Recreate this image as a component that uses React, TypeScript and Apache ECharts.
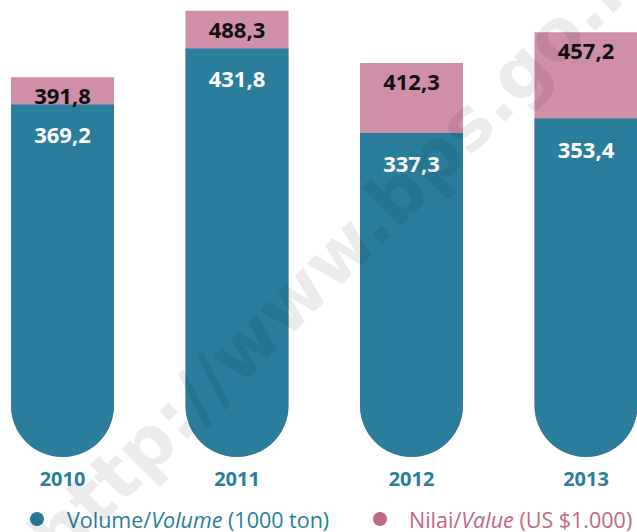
import React, { useEffect, useRef } from 'react';
import * as echarts from 'echarts';

const years = ['2010', '2011', '2012', '2013'];
const volume = [369.2, 431.8, 337.3, 353.4];
const nilai = [391.8, 488.3, 412.3, 457.2];

const TEAL = '#2a7e9c';
const PINK_BAR = '#d08fa9';
const PINK_DARK = '#c0678a';
const FONT = '"Open Sans", "DejaVu Sans", sans-serif';

const fmt = (v: number) => String(v).replace('.', ',');

export default function App() {
  const ref = useRef<HTMLDivElement>(null);
  useEffect(() => {
    const chart = echarts.init(ref.current!, null, { renderer: 'svg' });
    chart.setOption({
      animation: false,
      grid: { left: 62.5, right: 51, top: 0, bottom: 75 },
      xAxis: {
        type: 'category',
        data: years,
        boundaryGap: false,
        axisLine: { show: false },
        axisTick: { show: false },
        splitLine: { show: false },
        axisLabel: {
          margin: 11,
          color: TEAL,
          fontFamily: FONT,
          fontWeight: 'bold',
          fontSize: 20,
          interval: 0,
        },
      },
      yAxis: [
        { type: 'value', min: -25, max: 486, startValue: -25, show: false, splitLine: { show: false } },
        { type: 'value', min: -160, max: 504, startValue: -160, show: false, splitLine: { show: false } },
      ],
      legend: [
        {
          left: 30,
          top: 508,
          padding: 0,
          icon: 'circle',
          itemWidth: 14,
          itemHeight: 14,
          selectedMode: false,
          data: [{ name: 'Volume', itemStyle: { color: TEAL } }],
          formatter: () => '{a|Volume/}{ai|Volume}{b| (1000 ton)}',
          textStyle: {
            rich: {
              a: { fontFamily: FONT, fontSize: 21.5, color: TEAL, padding: [0, 0, 0, 18] },
              ai: { fontFamily: FONT, fontSize: 21.5, color: TEAL, fontStyle: 'italic' },
              b: { fontFamily: FONT, fontSize: 21.5, color: TEAL },
            },
          },
        },
        {
          left: 373,
          top: 508,
          padding: 0,
          icon: 'circle',
          itemWidth: 14,
          itemHeight: 14,
          selectedMode: false,
          data: [{ name: 'Nilai', itemStyle: { color: PINK_DARK } }],
          formatter: () => '{a|Nilai/}{ai|Value}{b| (US $1.000)}',
          textStyle: {
            rich: {
              a: { fontFamily: FONT, fontSize: 21.5, color: PINK_DARK, padding: [0, 0, 0, 17] },
              ai: { fontFamily: FONT, fontSize: 21.5, color: PINK_DARK, fontStyle: 'italic' },
              b: { fontFamily: FONT, fontSize: 21.5, color: PINK_DARK },
            },
          },
        },
      ],
      series: [
        {
          name: 'Nilai',
          type: 'bar',
          yAxisIndex: 1,
          data: nilai,
          barWidth: 103,
          barGap: '-100%',
          clip: false,
          itemStyle: { color: PINK_BAR, borderRadius: [0, 0, 52, 52] },
          label: {
            show: true,
            position: 'insideTop',
            distance: 7,
            color: '#111',
            fontFamily: FONT,
            fontWeight: 'bold',
            fontSize: 22,
            formatter: (p: any) => fmt(p.value),
          },
        },
        {
          name: 'Volume',
          type: 'bar',
          yAxisIndex: 0,
          data: volume,
          barWidth: 103,
          barGap: '-100%',
          clip: false,
          itemStyle: { color: TEAL, borderRadius: [0, 0, 52, 52] },
          label: {
            show: true,
            position: 'insideTop',
            distance: 19,
            color: '#fff',
            fontFamily: FONT,
            fontWeight: 'bold',
            fontSize: 22,
            formatter: (p: any) => fmt(p.value),
          },
        },
      ],
      graphic: [
        {
          type: 'text',
          x: 344,
          y: 247,
          rotation: Math.PI / 4,
          z: 100,
          silent: true,
          style: {
            text: 'http://www.bps.go.id',
            fontFamily: '"DejaVu Sans", sans-serif',
            fontWeight: 'bold',
            fontSize: 72,
            fill: 'rgba(0,0,0,0.08)',
            align: 'center',
            verticalAlign: 'middle',
          },
        },
      ],
    });
    return () => chart.dispose();
  }, []);
  return (
    <div
      ref={ref}
      style={{ position: 'absolute', left: 0, top: 0, width: 637, height: 532 }}
    />
  );
}
